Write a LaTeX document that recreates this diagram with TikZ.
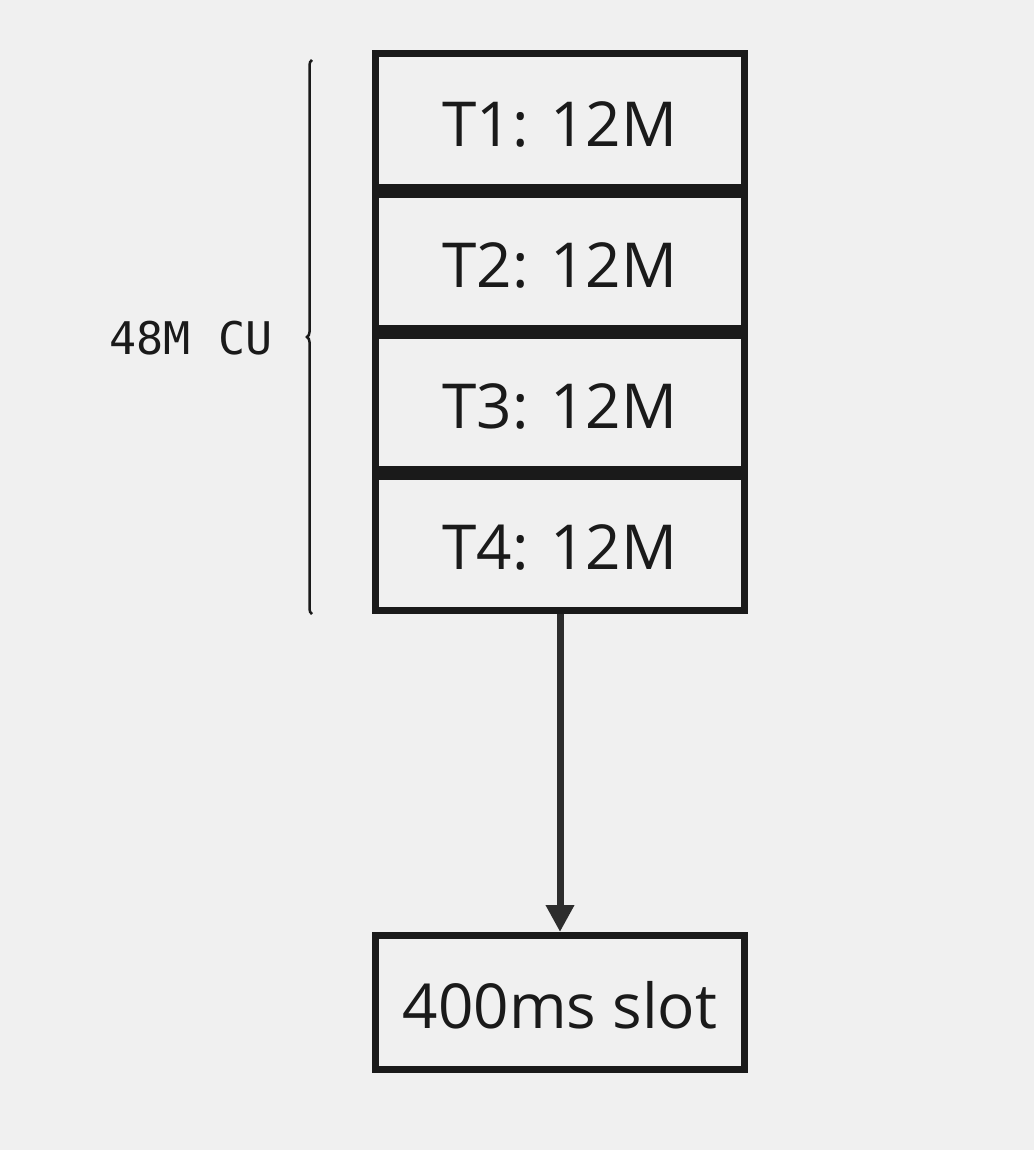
\documentclass[tikz,border=0pt]{standalone}
\usepackage{fontspec}
\setmainfont{Open Sans}
\newfontfamily\cumono{DejaVu Sans Mono}
\usetikzlibrary{decorations.pathreplacing,arrows.meta}
\definecolor{bgcol}{HTML}{F0F0F0}
\definecolor{inkcol}{HTML}{1A1A1A}
\definecolor{arrowcol}{HTML}{2D2D2D}
\tikzset{
	slotbox/.style={draw=inkcol, line width=7pt, minimum width=369pt, minimum height=134pt, inner sep=0pt, text height=52pt, text depth=0pt, text=inkcol, font=\fontsize{62}{74}\selectfont},
}

\begin{document}
\begin{tikzpicture}[x=1pt, y=-1pt]
			%%%%% START %%%%%
			
			\fill[bgcol] (0, 0) rectangle (1034, 1150);
			
			\node[slotbox] (t1) at (560, 120.5) {T1: 12M};
			\node[slotbox] (t2) at (560, 261.5) {T2: 12M};
			\node[slotbox] (t3) at (560, 402.5) {T3: 12M};
			\node[slotbox] (t4) at (560, 543.5) {T4: 12M};
			
			\node[slotbox] (slot) at (560, 1002.5) {400ms slot};
			
			\draw[line width=7pt, color=arrowcol, -{Triangle[length=27pt, width=27pt]}] (t4.south) -- (slot.north);
			
			\coordinate (bracetop) at (312, 60);
			\coordinate (bracebot) at (312, 614);
			\draw[line width=2.5pt, color=inkcol, decorate, decoration={brace, amplitude=5pt, mirror}] (bracetop) -- (bracebot);
			\node[text=inkcol, font=\cumono\fontsize{45}{54}\selectfont] (cu) at (191, 338) {48M CU};
			
			%%%%% END %%%%%
\end{tikzpicture}
\end{document}
